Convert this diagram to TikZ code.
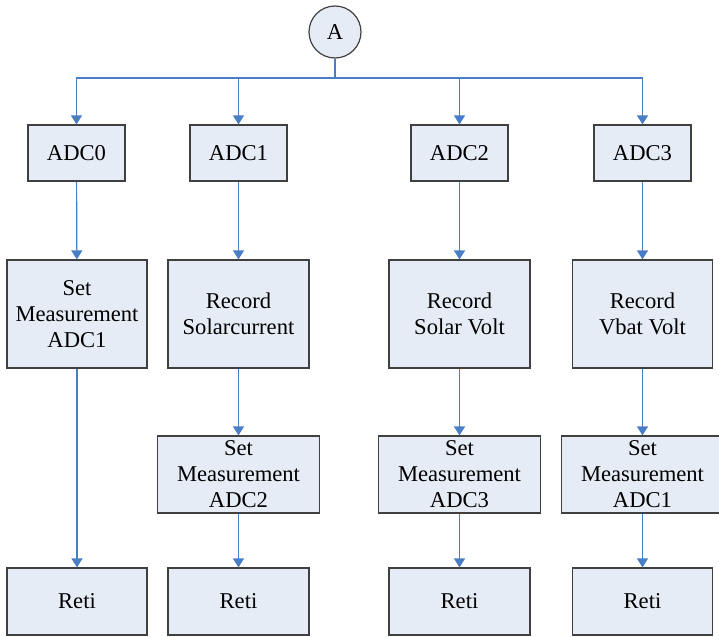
\documentclass[tikz,border=0pt]{standalone}
\usepackage{fontspec}
\setmainfont{LiberationSerif}[Extension=.ttf, UprightFont=*-Regular, BoldFont=*-Bold]
\usetikzlibrary{arrows.meta}
\definecolor{boxfill}{RGB}{230,236,246}
\definecolor{boxline}{RGB}{64,64,64}
\definecolor{flow}{RGB}{74,126,196}
\begin{document}
\begin{tikzpicture}[x=0.5pt,y=-0.5pt,
  every node/.style={font=\rmfamily\fontsize{11.3}{13}\selectfont, text=black},
  proc/.style={draw=boxline, line width=0.6pt, fill=boxfill, align=center,
    inner sep=0pt, minimum width=#1*0.5pt},
  proc/.default=97,
  startnode/.style={circle, draw=boxline, line width=0.6pt, fill=boxfill,
    minimum size=26pt, inner sep=0pt},
  flowline/.style={draw=flow, line width=0.6pt},
  flowarrow/.style={flowline, -{Triangle[width=5.5pt,length=4.5pt]}}]
\useasboundingbox (0,0) rectangle (719,637);
\clip (0,0) rectangle (719,637);

% entry connector
\node[startnode] (A) at (335,32) {A};
\coordinate (split) at (335,78);

% first row: channel selection
\node[proc=97, minimum height=28pt] (adc0) at (76.5,153) {ADC0};
\node[proc=97, minimum height=28pt] (adc1) at (238.5,153) {ADC1};
\node[proc=97, minimum height=28pt] (adc2) at (459.5,153) {ADC2};
\node[proc=97, minimum height=28pt] (adc3) at (642.5,153) {ADC3};

% second row
\node[proc=140, minimum height=54pt] (s0) at (77,314) {Set\\Measurement\\ADC1};
\node[proc=141, minimum height=54pt] (r1) at (238.5,314) {Record\\Solarcurrent};
\node[proc=141, minimum height=54pt] (r2) at (459.5,314) {Record\\Solar Volt};
\node[proc=140, minimum height=54pt] (r3) at (642.5,314) {Record\\Vbat Volt};

% third row
\node[proc=162, minimum height=38.5pt] (s1) at (238.5,474.5) {Set\\Measurement\\ADC2};
\node[proc=162, minimum height=38.5pt] (s2) at (459.5,474.5) {Set\\Measurement\\ADC3};
\node[proc=162, minimum height=38.5pt] (s3) at (642.5,474.5) {Set\\Measurement\\ADC1};

% return boxes
\node[proc=140, minimum height=33.5pt] (e0) at (77,601.5) {Reti};
\node[proc=141, minimum height=33.5pt] (e1) at (238.5,601.5) {Reti};
\node[proc=141, minimum height=33.5pt] (e2) at (459.5,601.5) {Reti};
\node[proc=140, minimum height=33.5pt] (e3) at (642.5,601.5) {Reti};

% connectors
\draw[flowline] (A) -- (split);
\draw[flowarrow] (split) -| (adc0);
\draw[flowarrow] (split) -| (adc1);
\draw[flowarrow] (split) -| (adc2);
\draw[flowarrow] (split) -| (adc3);

\draw[flowarrow] (adc0) -- (s0);
\draw[flowarrow] (adc1) -- (r1);
\draw[flowarrow] (adc2) -- (r2);
\draw[flowarrow] (adc3) -- (r3);

\draw[flowarrow] (r1) -- (s1);
\draw[flowarrow] (r2) -- (s2);
\draw[flowarrow] (r3) -- (s3);

\draw[flowarrow] (s0) -- (e0);
\draw[flowarrow] (s1) -- (e1);
\draw[flowarrow] (s2) -- (e2);
\draw[flowarrow] (s3) -- (e3);
\end{tikzpicture}
\end{document}
